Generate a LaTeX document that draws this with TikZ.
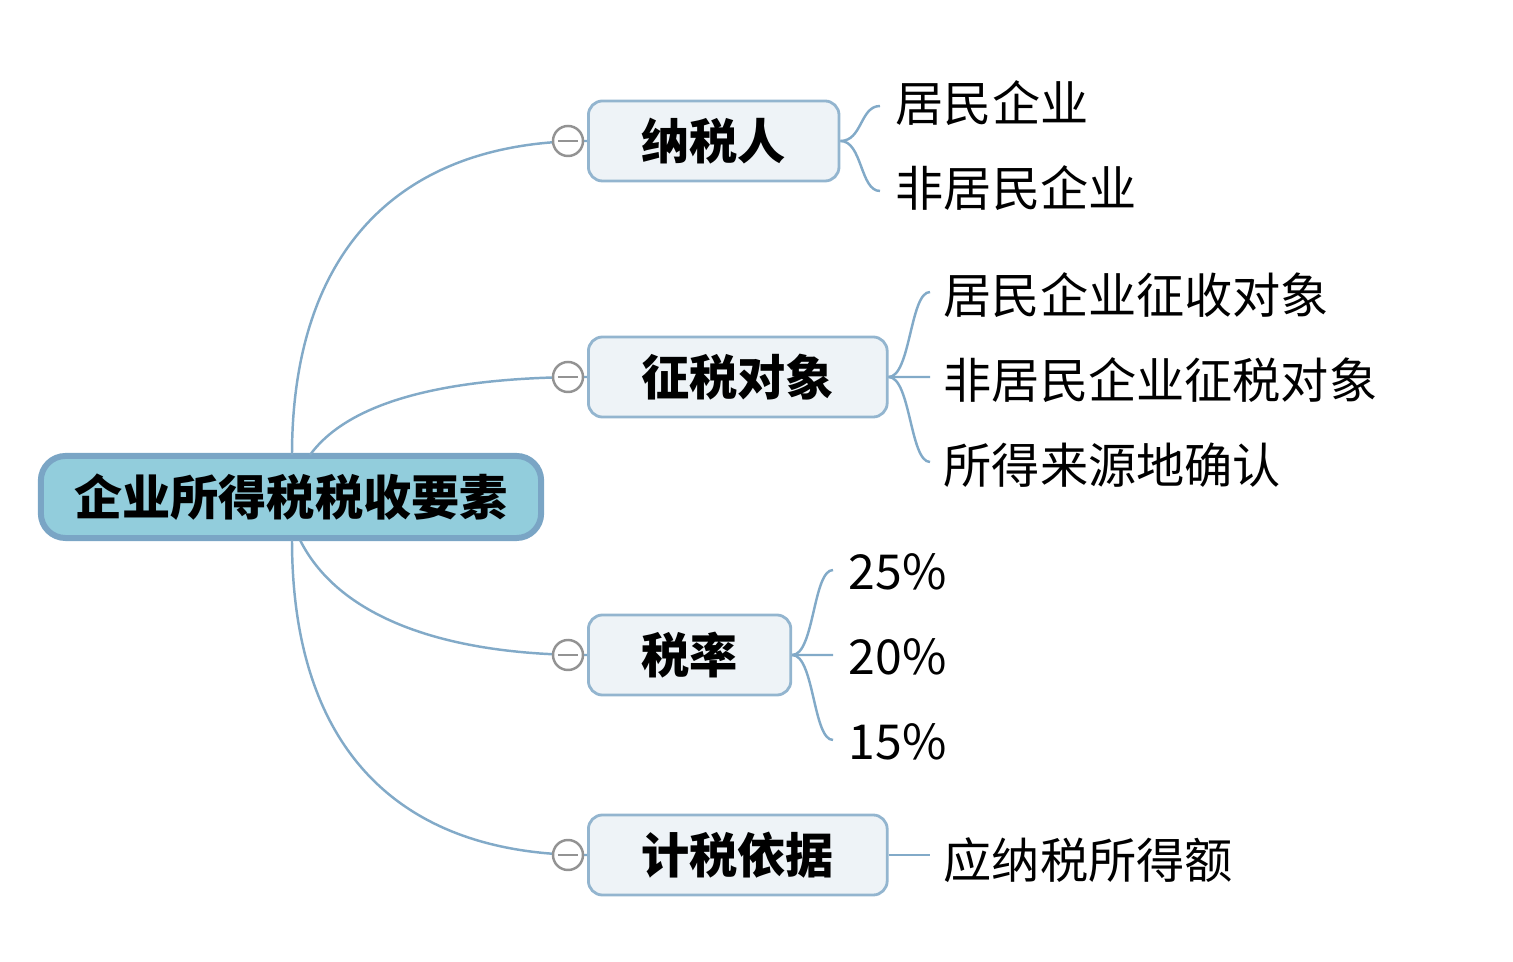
\documentclass[tikz,border=0pt]{standalone}
\usepackage{fontspec}
\newfontfamily\cjk{Noto Sans CJK SC}
\usepackage{tikz}

\definecolor{rootfill}{HTML}{92CDDC}
\definecolor{rootline}{HTML}{7AA5C5}
\definecolor{boxfill}{HTML}{EEF3F7}
\definecolor{boxline}{HTML}{93B5CF}
\definecolor{link}{HTML}{82AAC8}

\begin{document}
\begin{tikzpicture}[x=0.01cm,y=-0.01cm,
        root/.style={draw=rootline,line width=1.7pt,fill=rootfill,rounded corners=7pt,
            minimum width=5cm,minimum height=0.82cm,inner xsep=0pt,
            font=\cjk\bfseries\fontsize{13.7}{16}\selectfont},
        topic/.style={draw=boxline,line width=0.8pt,fill=boxfill,rounded corners=4pt,
            anchor=west,minimum height=0.8cm,inner xsep=0.53cm,
            font=\cjk\bfseries\fontsize{13.7}{16}\selectfont},
        leaf/.style={anchor=west,inner sep=0pt,font=\cjk\fontsize{13.7}{16}\selectfont},
        fold/.style={circle,draw=gray!85,line width=0.7pt,fill=white,minimum size=0.3cm,inner sep=0pt},
        link/.style={draw=link,line width=0.7pt}]
        \useasboundingbox (0,0) rectangle (1513,962);

        \node[root] (r) at (291,497) {企业所得税税收要素};

        \node[topic] (1) at (587,141) {纳税人};
        \node[topic] (2) at (587,377) {征税对象};
        \node[topic] (3) at (587,655) {税率};
        \node[topic] (4) at (587,855) {计税依据};

        \node[leaf] (11) at (895,103) {居民企业};
        \node[leaf] (12) at (895,188) {非居民企业};
        \node[leaf] (21) at (943,295) {居民企业征收对象};
        \node[leaf] (22) at (943,380) {非居民企业征税对象};
        \node[leaf] (23) at (943,465) {所得来源地确认};
        \node[leaf] (31) at (848,572) {25\%};
        \node[leaf] (32) at (848,657) {20\%};
        \node[leaf] (33) at (848,742) {15\%};
        \node[leaf] (41) at (943,860) {应纳税所得额};

        % root to topics
        \draw[link] (292,455) .. controls (292,250) and (400,141) .. (1.west);
        \draw[link] (310,455) .. controls (350,400) and (450,377) .. (2.west);
        \draw[link] (300,540) .. controls (340,620) and (450,655) .. (3.west);
        \draw[link] (292,540) .. controls (292,750) and (400,855) .. (4.west);

        \foreach \t in {1,2,3,4}
            \node[fold] (f\t) at ([xshift=-0.19cm]\t.west) {};
        \foreach \t in {1,2,3,4}
            \draw[gray!85,line width=0.7pt] ([xshift=-0.1cm]f\t.center) -- ([xshift=0.1cm]f\t.center);

        % topics to leaves
        \draw[link] (1.east) .. controls +(22,0) and +(-20,0) .. ([xshift=-0.15cm,yshift=-0.03cm]11.west);
        \draw[link] (1.east) .. controls +(22,0) and +(-20,0) .. ([xshift=-0.15cm,yshift=-0.03cm]12.west);
        \draw[link] (2.east) .. controls +(22,0) and +(-20,0) .. ([xshift=-0.13cm,yshift=0.03cm]21.west);
        \draw[link] (2.east) -- ([xshift=-0.13cm,yshift=0.03cm]22.west);
        \draw[link] (2.east) .. controls +(22,0) and +(-20,0) .. ([xshift=-0.13cm,yshift=0.03cm]23.west);
        \draw[link] (3.east) .. controls +(22,0) and +(-20,0) .. ([xshift=-0.15cm,yshift=0.02cm]31.west);
        \draw[link] (3.east) -- ([xshift=-0.15cm,yshift=0.02cm]32.west);
        \draw[link] (3.east) .. controls +(22,0) and +(-20,0) .. ([xshift=-0.15cm,yshift=0.02cm]33.west);
        \draw[link] (4.east) -- ([xshift=-0.13cm]4.east -| 41.west);
\end{tikzpicture}
\end{document}
